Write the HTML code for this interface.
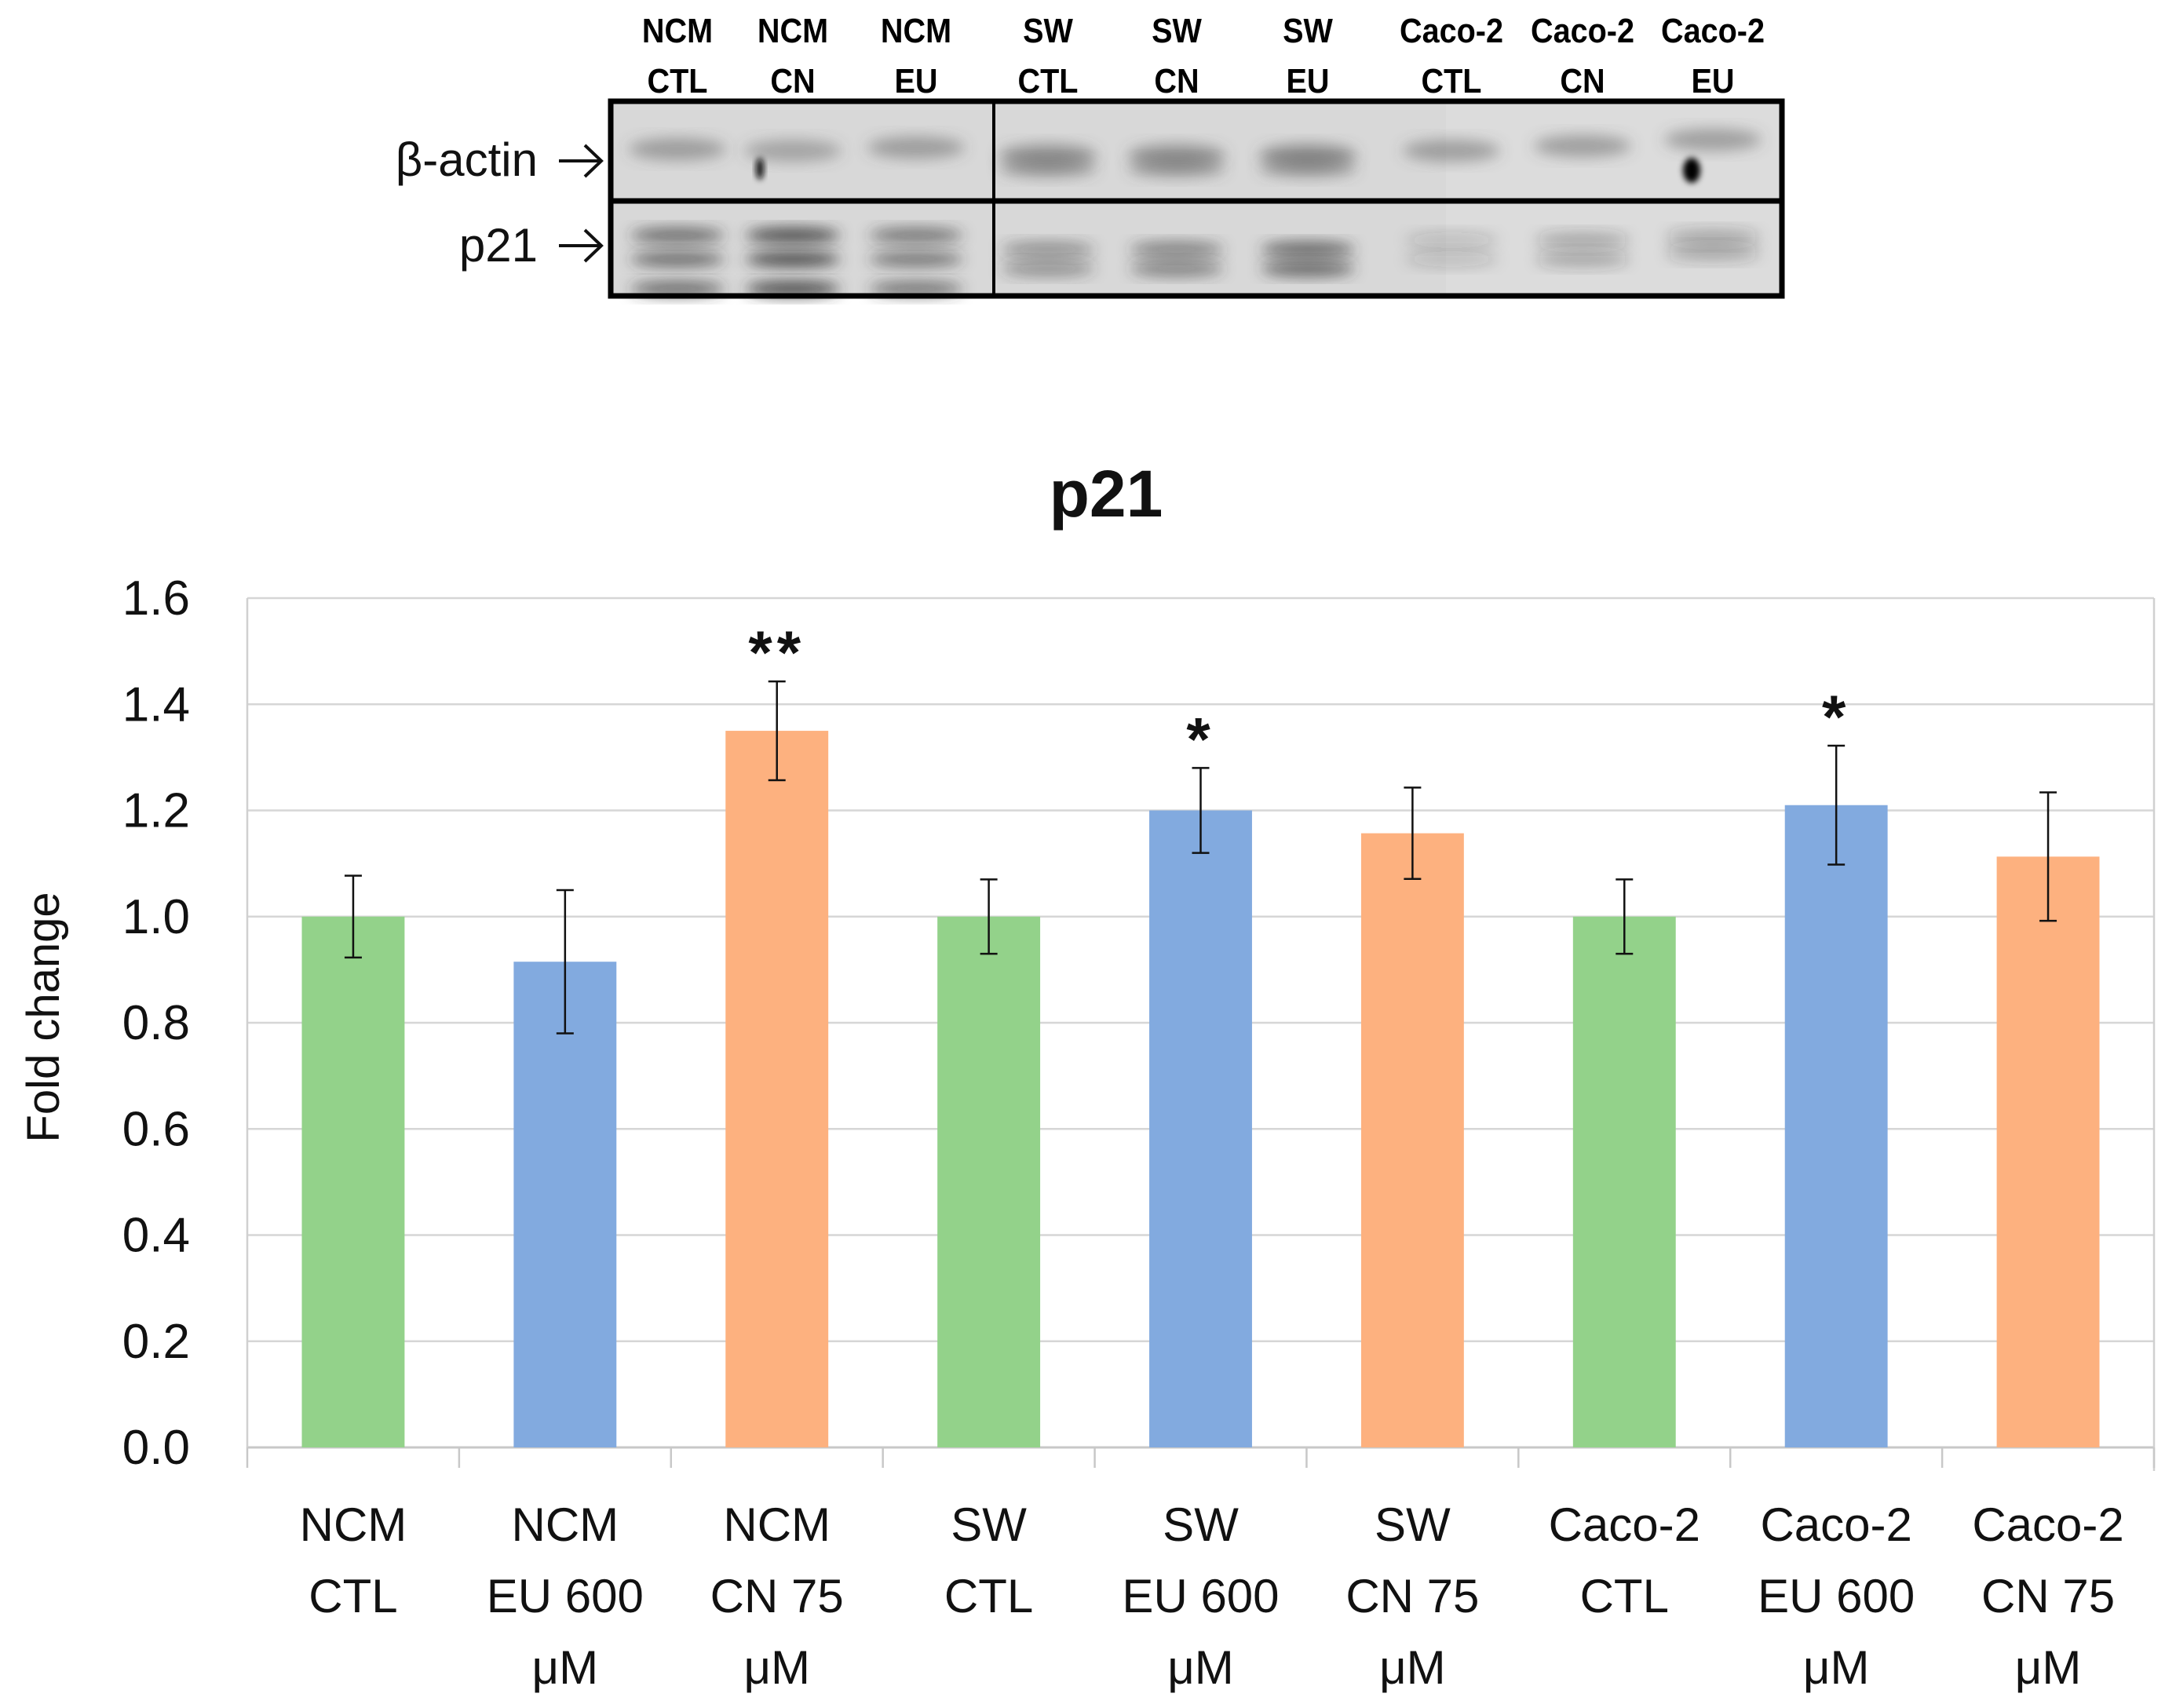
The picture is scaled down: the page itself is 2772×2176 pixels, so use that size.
<!DOCTYPE html>
<html><head><meta charset="utf-8"><style>
html,body{margin:0;padding:0;background:#fff;}
svg{display:block;font-family:"Liberation Sans",sans-serif;}
</style></head><body>
<svg id="fig" width="2772" height="2176" viewBox="0 0 2772 2176" xmlns="http://www.w3.org/2000/svg">
<defs>
<filter id="blur" x="-50%" y="-50%" width="200%" height="200%"><feGaussianBlur stdDeviation="9"/></filter>
<filter id="blur2" x="-50%" y="-50%" width="200%" height="200%"><feGaussianBlur stdDeviation="4"/></filter>
</defs>
<g id="blot"></g>
<g id="chart"></g>
</svg>
<script>
const NS="http://www.w3.org/2000/svg";
// ---- chart data ----
const categories=[["NCM","CTL"],["NCM","EU 600","μM"],["NCM","CN 75","μM"],["SW","CTL"],["SW","EU 600","μM"],["SW","CN 75","μM"],["Caco-2","CTL"],["Caco-2","EU 600","μM"],["Caco-2","CN 75","μM"]];
const values=[1.0,0.915,1.35,1.0,1.2,1.157,1.0,1.21,1.113];
const errors=[0.077,0.135,0.093,0.07,0.08,0.086,0.07,0.112,0.121];
const significance=["","","**","","*","","","*",""];
const barColors=["#93D28A","#82AADF","#FDB17F","#93D28A","#82AADF","#FDB17F","#93D28A","#82AADF","#FDB17F"];
const yTicks=[0,0.2,0.4,0.6,0.8,1.0,1.2,1.4,1.6];
const laneTop=[["NCM","CTL"],["NCM","CN"],["NCM","EU"],["SW","CTL"],["SW","CN"],["SW","EU"],["Caco-2","CTL"],["Caco-2","CN"],["Caco-2","EU"]];

function el(tag,attrs,parent,text){const e=document.createElementNS(NS,tag);for(const k in attrs)e.setAttribute(k,attrs[k]);if(text!==undefined)e.textContent=text;parent.appendChild(e);return e;}

const chart=document.getElementById('chart');
const X0=315,X1=2744,Y0=1844,Ytop=762,YMAX=1.6;
const band=(X1-X0)/categories.length;
const y=v=>Y0-(v/YMAX)*(Y0-Ytop);
const xc=i=>X0+band*(i+0.5);
const bw=band*0.485;

yTicks.forEach(t=>{
  const g=el('line',{x1:X0,x2:X1,y1:y(t),y2:y(t),stroke:t===0?'#c8c8c8':'#d6d6d6','stroke-width':t===0?3:2.5},chart);
  
  
  const lb=el('text',{x:242,y:y(t)+21,'text-anchor':'end','font-size':62,fill:'#111'},chart,t.toFixed(1));
  
  
});
let ax=el('line',{x1:X0,x2:X0,y1:Ytop,y2:Y0,stroke:'#d0d0d0','stroke-width':2.5},chart);


let rx=el('line',{x1:X1,x2:X1,y1:Ytop,y2:Y0+30,stroke:'#d0d0d0','stroke-width':2.5},chart);


for(let i=0;i<=categories.length;i++){
  const tk=el('line',{x1:X0+band*i,x2:X0+band*i,y1:Y0,y2:Y0+26,stroke:'#c8c8c8','stroke-width':2.5},chart);
  
  
}
categories.forEach((c,i)=>{
  const r=el('rect',{x:xc(i)-bw/2,y:y(values[i]),width:bw,height:Y0-y(values[i]),fill:barColors[i]},chart);
  
  
  const hi=y(values[i]+errors[i]),lo=y(values[i]-errors[i]);
  const eb=el('path',{d:`M${xc(i)},${hi}V${lo}M${xc(i)-11},${hi}H${xc(i)+11}M${xc(i)-11},${lo}H${xc(i)+11}`,stroke:'#111','stroke-width':2.5,fill:'none'},chart);
  
  
  if(significance[i]){
    const s=el('text',{x:xc(i),y:hi-10,'text-anchor':'middle','font-size':78,'font-weight':'bold',fill:'#111','letter-spacing':6},chart,significance[i]);
    
    
  }
  c.forEach((ln,j)=>{
    const t=el('text',{x:xc(i),y:1963+j*91,'text-anchor':'middle','font-size':60,fill:'#111'},chart,ln);
    
    
  });
});
let tt=el('text',{x:1409,y:658,'text-anchor':'middle','font-size':84,'font-weight':'bold',fill:'#111'},chart,'p21');


let yt=el('text',{x:0,y:0,'text-anchor':'middle','font-size':58,fill:'#111',transform:'translate(75,1296) rotate(-90)'},chart,'Fold change');



// ---- blot ----
const blot=document.getElementById('blot');
const laneX=[863,1010,1167,1335,1499,1666,1849,2016,2182];
const L=778,R=2270,T=129,M=256,B=377;
let bg=el('rect',{x:L,y:T,width:R-L,height:B-T,fill:'#d8d8d8'},blot);


el('rect',{x:1842,y:T,width:R-1842,height:B-T,fill:'#dcdcdc'},blot);
const actinY=[190,192,188,198,198,198,192,186,178];
const actinD=[0.45,0.4,0.45,0.55,0.55,0.6,0.45,0.45,0.45];
laneX.forEach((x,i)=>{
  el('ellipse',{cx:x,cy:actinY[i],rx:62,ry:14,fill:'#555','fill-opacity':actinD[i],filter:'url(#blur)'},blot);
  if(i>=3&&i<=5) el('ellipse',{cx:x,cy:actinY[i]+16,rx:62,ry:12,fill:'#555','fill-opacity':0.45,filter:'url(#blur)'},blot);
});
el('ellipse',{cx:2155,cy:217,rx:11,ry:16,fill:'#000',filter:'url(#blur2)'},blot);
el('ellipse',{cx:968,cy:215,rx:5,ry:14,fill:'#111',filter:'url(#blur2)'},blot);
const p21D=[0.65,0.85,0.6,0.45,0.55,0.7,0.18,0.3,0.3];
laneX.forEach((x,i)=>{
  const ys=i<3?[300,330,368]:(i<6?[318,342]:(i<8?[306,330]:[302,322]));
  ys.forEach(yy=>el('ellipse',{cx:x,cy:yy,rx:60,ry:10,fill:'#333','fill-opacity':p21D[i],filter:'url(#blur)'},blot));
});
let fr=el('rect',{x:L,y:T,width:R-L,height:B-T,fill:'none',stroke:'#000','stroke-width':7},blot);


el('line',{x1:L,x2:R,y1:M,y2:M,stroke:'#000','stroke-width':7},blot);
el('line',{x1:1266,x2:1266,y1:T,y2:B,stroke:'#000','stroke-width':4},blot);
laneX.forEach((x,i)=>{
  laneTop[i].forEach((s,j)=>{
    const t=el('text',{x:0,y:0,'text-anchor':'middle','font-size':44,'font-weight':'bold',fill:'#000',transform:`translate(${x},${[54,118][j]}) scale(0.9,1)`},blot,s);
    
    
  });
});
let a1=el('text',{x:685,y:224,'text-anchor':'end','font-size':60,fill:'#111'},blot,'β-actin');


let a2=el('text',{x:685,y:333,'text-anchor':'end','font-size':60,fill:'#111'},blot,'p21');


[205,313].forEach(yy=>{
  const ar=el('path',{d:`M712,${yy}H765M745,${yy-20}L766,${yy}L745,${yy+20}`,stroke:'#111','stroke-width':4,fill:'none'},blot);
  
  
});
</script>
</body></html>
